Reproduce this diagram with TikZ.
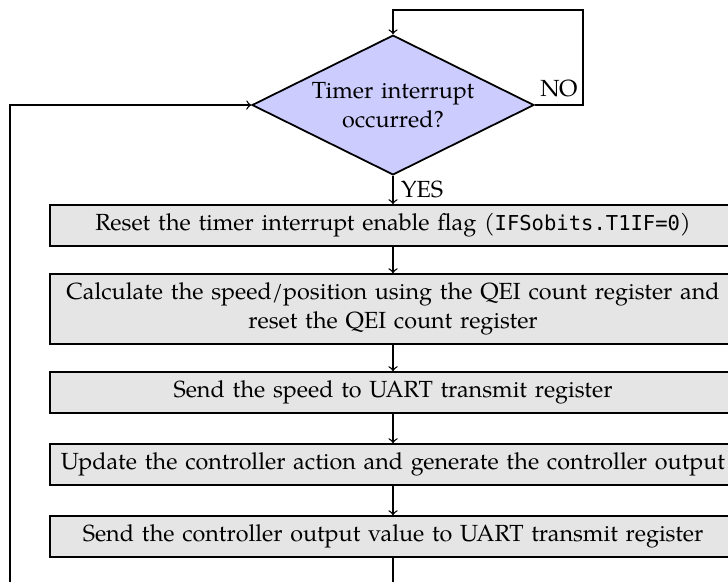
\documentclass[tikz,border=0pt]{standalone}
\usepackage{fontspec}
\setmainfont{TeX Gyre Pagella}
\setmonofont{DejaVu Sans Mono}[Scale=0.88]
\usepackage{tikz}
\usetikzlibrary{shapes, arrows}
\tikzstyle{decision} = [diamond, draw, thick, fill=blue!20, aspect=2,
    text width=2.8cm, text centered, inner sep=0pt,
    minimum width=4.46cm, minimum height=2.21cm]
\tikzstyle{block} = [rectangle, draw, thick, fill=gray!20,
    text width=10.64cm, text centered, inner sep=3pt, minimum height=0.65cm]
\tikzstyle{line} = [draw, semithick, ->]
\begin{document}
\begin{tikzpicture}[node distance = 1.3cm, auto, font=\fontsize{10.5}{13.2}\selectfont]
    \useasboundingbox (-6.216,-7.528) rectangle (5.298,1.661);
    % Nodes
    \node [decision] (timer) {Timer interrupt occurred?};
    \node [block, below of=timer, node distance=1.906cm] (reset) {Reset the timer interrupt enable flag (\texttt{IFSobits.T1IF=0})};
    \node [block, below of=reset, node distance=1.321cm, minimum height=1.107cm] (calc) {Calculate the speed/position using the QEI count register and\\ reset the QEI count register};
    \node [block, below of=calc, node distance=1.321cm] (sendspeed) {Send the speed to UART transmit register};
    \node [block, below of=sendspeed, node distance=1.139cm] (update) {Update the controller action and generate the controller output};
    \node [block, below of=update, node distance=1.139cm] (sendout) {Send the controller output value to UART transmit register};
    % Corners of the loops
    \coordinate [right of=timer, node distance=3.005cm] (nocorner);
    \coordinate [above of=timer, node distance=1.503cm] (notop);
    \coordinate [left of=timer, node distance=6.058cm] (backleft);
    \coordinate [below of=sendout, node distance=1.5cm] (backbottom);
    % Edges
    \path [line] (timer.east) -- node[above] {NO} (nocorner) |- (notop) -- (timer.north);
    \path [line] (timer) -- node[right] {YES} (reset);
    \path [line] (reset) -- (calc);
    \path [line] (calc) -- (sendspeed);
    \path [line] (sendspeed) -- (update);
    \path [line] (update) -- (sendout);
    \path [line] (sendout) -- (backbottom) -| (backleft) -- (timer.west);
\end{tikzpicture}
\end{document}
